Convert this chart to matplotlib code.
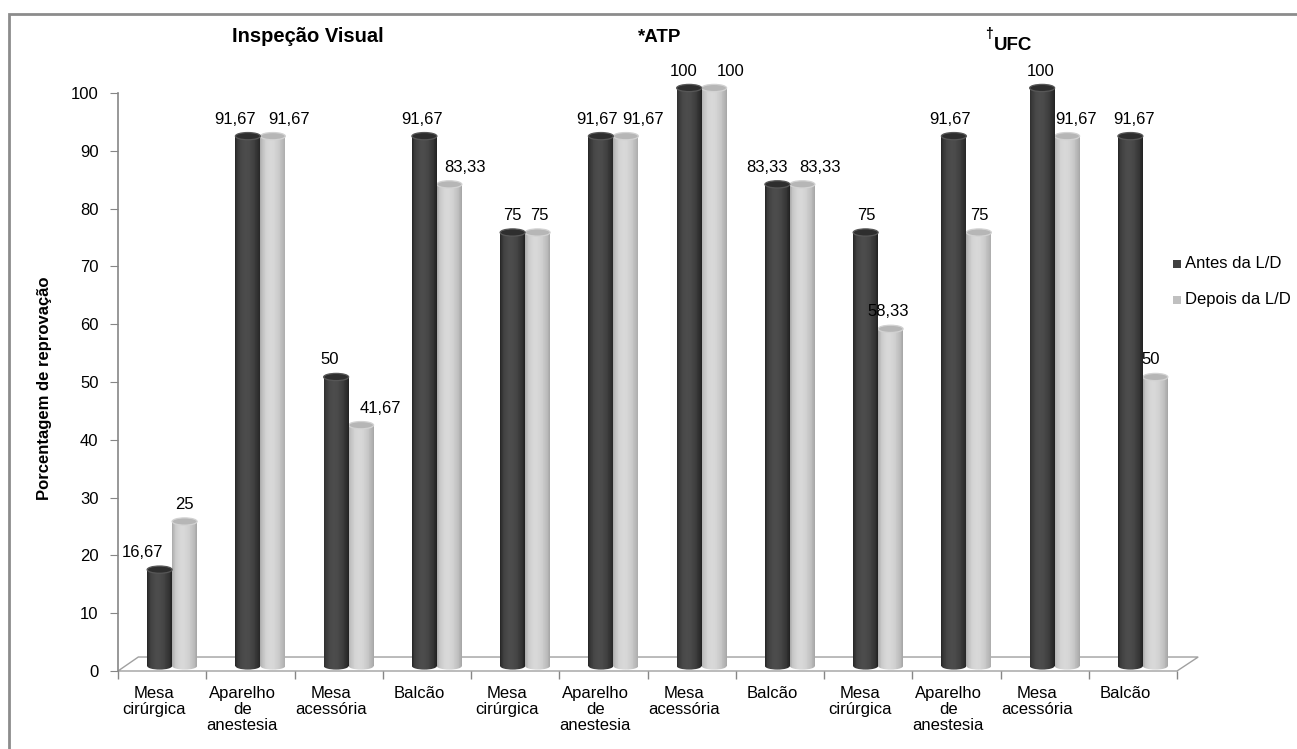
import numpy as np
import matplotlib
matplotlib.use('Agg')
import matplotlib.pyplot as plt
from matplotlib import transforms
from matplotlib.patches import Ellipse, Polygon, Rectangle

plt.rcParams['font.family'] = ['Liberation Sans', 'DejaVu Sans']

categorias = ['Mesa\ncirúrgica', 'Aparelho\nde\nanestesia', 'Mesa\nacessória', 'Balcão'] * 3
antes = [16.67, 91.67, 50, 91.67, 75, 91.67, 100, 83.33, 75, 91.67, 100, 91.67]
depois = [25, 91.67, 41.67, 83.33, 75, 91.67, 100, 83.33, 58.33, 75, 91.67, 50]
series = ['Antes da L/D', 'Depois da L/D']
grupos = ['Inspeção Visual', '*ATP', 'UFC']

# deslocamento horizontal dos rótulos de valor (px), para não se sobreporem
nudge_antes = [-17, -13, -6, -2, 0, -4, -6, -10, 1, -4, -2, 4]
nudge_depois = [0, 16, 19, 16, 2, 17, 17, 18, -2, 1, 9, -5]

W, H = 1297, 749
fig = plt.figure(figsize=(W / 100, H / 100), dpi=100)
ax = fig.add_axes([118 / W, (H - 671) / H, (1177 - 118) / W, (671 - 93) / H])
ax.set_xlim(-0.5, 11.5)
ax.set_ylim(0, 100)

# profundidade 3D: cilindros ficam um pouco atrás do plano frontal
tr = transforms.offset_copy(ax.transData, fig=fig, x=10, y=5, units='dots')

larg = 0.283
eh = 1.25  # altura das elipses (unidades do eixo y)


def shade_cols(lo, hi, n):
    t = (np.arange(n) + 0.5) / n
    s = np.sin(np.pi * t ** 0.8) ** 0.7
    v = lo + (hi - lo) * s
    return [(c, c, c) for c in v / 255.0]


def cilindro(xc, valor, lo, hi, topo, borda, z):
    n = 30
    x0 = np.linspace(xc - larg / 2, xc + larg / 2, n + 1)[:-1]
    cols = shade_cols(lo, hi, n)
    # base arredondada
    base = ax.bar(x0, eh / 2, bottom=-eh / 2, width=larg / n, align='edge',
                  color=cols, linewidth=0, transform=tr, zorder=z)
    clip = Ellipse((xc, 0), larg, eh, transform=tr, facecolor='none',
                   edgecolor='none')
    ax.add_patch(clip)
    for r in base:
        r.set_clip_path(clip)
    # corpo
    ax.bar(x0, valor, width=larg / n * 1.02, align='edge', color=cols,
           linewidth=0, transform=tr, zorder=z, clip_on=False)
    # tampa
    ax.add_patch(Ellipse((xc, valor), larg, eh, transform=tr, facecolor=topo,
                         edgecolor=borda, linewidth=0.9, zorder=z + 0.1,
                         clip_on=False))


xs = np.arange(len(categorias))

# piso
piso = Polygon([(-0.5, 0), (11.5, 0), (11.74, 2.42), (-0.27, 2.42)],
               closed=True, facecolor='white', edgecolor='#a0a0a0',
               linewidth=1.0, clip_on=False, zorder=1)
ax.add_patch(piso)

for i in xs:
    cilindro(i + larg / 2, depois[i], 0xa2, 0xd8, '#b6b6b6', '#d2d2d2', 2)
    cilindro(i - larg / 2, antes[i], 0x1e, 0x4c, '#2e2e2e', '#575757', 3)

# rótulos de valor
fmt = lambda v: ('%g' % v).replace('.', ',')
for i in xs:
    ax.annotate(fmt(antes[i]), (i - larg / 2, antes[i]),
                xytext=(10 + nudge_antes[i], 22), textcoords='offset pixels',
                ha='center', va='center', fontsize=12, color='black', zorder=5,
                annotation_clip=False)
    ax.annotate(fmt(depois[i]), (i + larg / 2, depois[i]),
                xytext=(10 + nudge_depois[i], 22), textcoords='offset pixels',
                ha='center', va='center', fontsize=12, color='black', zorder=5,
                annotation_clip=False)

# eixos
for s in ['top', 'right', 'bottom']:
    ax.spines[s].set_visible(False)
ax.spines['left'].set_color('#868686')
ax.spines['left'].set_linewidth(1.2)
ax.set_yticks(np.arange(0, 101, 10))
ax.tick_params(axis='y', direction='out', length=6, color='#868686',
               labelsize=12, pad=8)
ax.set_xticks(np.arange(-0.5, 12, 1))
ax.set_xticklabels([])
ax.tick_params(axis='x', direction='out', length=6, color='#868686', width=1.0)

for i in xs:
    ax.annotate(categorias[i], (i, 0), xytext=(-8, -15),
                textcoords='offset pixels', ha='center', va='top',
                fontsize=12, linespacing=1.1, annotation_clip=False)

fig.text(45 / W, 1 - 388 / H, 'Porcentagem de reprovação', rotation=90,
         ha='center', va='center', fontsize=12, fontweight='bold')

# títulos dos grupos
fig.text(308 / W, 1 - 36 / H, grupos[0], ha='center', va='center',
         fontsize=14.5, fontweight='bold')
fig.text(660 / W, 1 - 37 / H, grupos[1], ha='center', va='center',
         fontsize=13.5, fontweight='bold')
fig.text(1013 / W, 1 - 45 / H, grupos[2], ha='center', va='center',
         fontsize=13.5, fontweight='bold')
fig.text(989 / W, 1 - 34 / H, '†', ha='center', va='center',
         fontsize=10, fontweight='bold')

# legenda
for k, (nome, cor) in enumerate(zip(series, ['#404040', '#c0c0c0'])):
    yc = 264 + 36 * k
    fig.patches.append(Rectangle((1173 / W, 1 - (yc + 4) / H), 8 / W, 8 / H,
                                 transform=fig.transFigure, facecolor=cor,
                                 edgecolor='none'))
    fig.text(1185 / W, 1 - yc / H, nome, ha='left', va='center', fontsize=12)

# moldura
fig.patches.append(Rectangle((8.5 / W, -0.1), 1.2, (H - 14) / H + 0.1,
                             transform=fig.transFigure, fill=False,
                             edgecolor='#8c8c8c', linewidth=2))

fig.savefig('out.png', dpi=100)
